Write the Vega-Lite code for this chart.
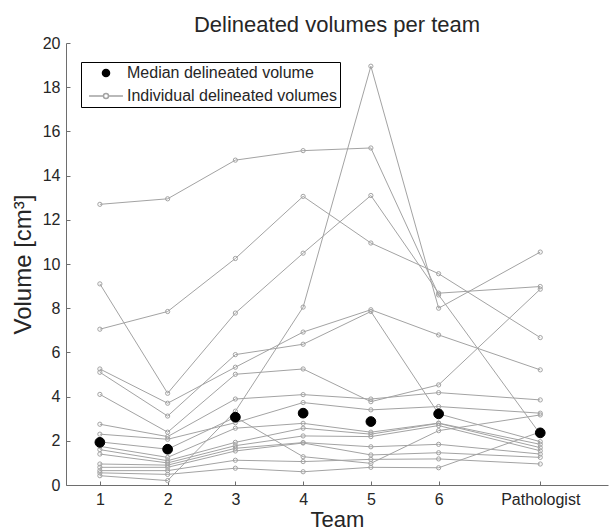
{
  "$schema": "https://vega.github.io/schema/vega-lite/v6.json",
  "width": 542,
  "height": 442,
  "autosize": {"type": "none"},
  "padding": {"left": 66, "top": 43, "right": 1, "bottom": 45},
  "background": "white",
  "config": {
    "font": "Liberation Sans",
    "view": {"stroke": null},
    "axis": {
      "grid": false,
      "domainColor": "#6e6e6e",
      "tickColor": "#6e6e6e",
      "tickSize": -4,
      "labelPadding": 10,
      "labelFontSize": 16,
      "labelColor": "#262626",
      "labelFlush": false,
      "labelOverlap": false,
      "titleFontSize": 22,
      "titleFontWeight": "normal",
      "titleColor": "#262626"
    }
  },
  "title": {
    "text": "Delineated volumes per team",
    "fontSize": 22,
    "fontWeight": "normal",
    "color": "#262626",
    "anchor": "middle",
    "frame": "group",
    "offset": -2
  },
  "datasets": {
    "individual": [
      {"c":"L1","team":1,"volume":12.7},{"c":"L1","team":2,"volume":12.95},{"c":"L1","team":3,"volume":14.7},{"c":"L1","team":4,"volume":15.13},{"c":"L1","team":5,"volume":15.25},{"c":"L1","team":6,"volume":8.6},{"c":"L1","team":7.5,"volume":2.3},
      {"c":"L2","team":1,"volume":7.05},{"c":"L2","team":2,"volume":7.85},{"c":"L2","team":3,"volume":10.25},{"c":"L2","team":4,"volume":13.06},{"c":"L2","team":5,"volume":10.95},{"c":"L2","team":6,"volume":9.56},{"c":"L2","team":7.5,"volume":6.67},
      {"c":"L3","team":1,"volume":9.1},{"c":"L3","team":2,"volume":4.15},{"c":"L3","team":3,"volume":7.78},{"c":"L3","team":4,"volume":10.49},{"c":"L3","team":5,"volume":13.1},{"c":"L3","team":6,"volume":8.68},{"c":"L3","team":7.5,"volume":8.98},
      {"c":"L4","team":1,"volume":0.42},{"c":"L4","team":2,"volume":0.2},{"c":"L4","team":3,"volume":3.34},{"c":"L4","team":4,"volume":8.05},{"c":"L4","team":5,"volume":18.95},{"c":"L4","team":6,"volume":8.0},{"c":"L4","team":7.5,"volume":10.54},
      {"c":"L5","team":1,"volume":5.25},{"c":"L5","team":2,"volume":3.7},{"c":"L5","team":3,"volume":5.33},{"c":"L5","team":4,"volume":6.92},{"c":"L5","team":5,"volume":7.93},{"c":"L5","team":6,"volume":6.79},{"c":"L5","team":7.5,"volume":5.21},
      {"c":"L6","team":1,"volume":5.1},{"c":"L6","team":2,"volume":3.12},{"c":"L6","team":3,"volume":5.9},{"c":"L6","team":4,"volume":6.37},{"c":"L6","team":5,"volume":7.85},{"c":"L6","team":6,"volume":3.22},{"c":"L6","team":7.5,"volume":1.96},
      {"c":"L7","team":1,"volume":4.1},{"c":"L7","team":2,"volume":2.39},{"c":"L7","team":3,"volume":5.01},{"c":"L7","team":4,"volume":5.25},{"c":"L7","team":5,"volume":3.77},{"c":"L7","team":6,"volume":4.53},{"c":"L7","team":7.5,"volume":8.86},
      {"c":"L8","team":1,"volume":2.75},{"c":"L8","team":2,"volume":2.19},{"c":"L8","team":3,"volume":3.89},{"c":"L8","team":4,"volume":4.09},{"c":"L8","team":5,"volume":3.89},{"c":"L8","team":6,"volume":4.18},{"c":"L8","team":7.5,"volume":3.85},
      {"c":"L9","team":1,"volume":2.3},{"c":"L9","team":2,"volume":2.07},{"c":"L9","team":3,"volume":2.82},{"c":"L9","team":4,"volume":3.73},{"c":"L9","team":5,"volume":3.4},{"c":"L9","team":6,"volume":3.55},{"c":"L9","team":7.5,"volume":3.25},
      {"c":"L10","team":1,"volume":1.95},{"c":"L10","team":2,"volume":1.62},{"c":"L10","team":3,"volume":3.07},{"c":"L10","team":4,"volume":1.28},{"c":"L10","team":5,"volume":0.98},{"c":"L10","team":6,"volume":2.46},{"c":"L10","team":7.5,"volume":3.17},
      {"c":"L11","team":1,"volume":1.75},{"c":"L11","team":2,"volume":1.25},{"c":"L11","team":3,"volume":2.57},{"c":"L11","team":4,"volume":2.79},{"c":"L11","team":5,"volume":2.39},{"c":"L11","team":6,"volume":2.8},{"c":"L11","team":7.5,"volume":1.84},
      {"c":"L12","team":1,"volume":1.6},{"c":"L12","team":2,"volume":1.1},{"c":"L12","team":3,"volume":1.93},{"c":"L12","team":4,"volume":2.57},{"c":"L12","team":5,"volume":2.3},{"c":"L12","team":6,"volume":2.79},{"c":"L12","team":7.5,"volume":1.69},
      {"c":"L13","team":1,"volume":1.4},{"c":"L13","team":2,"volume":1.0},{"c":"L13","team":3,"volume":1.78},{"c":"L13","team":4,"volume":2.22},{"c":"L13","team":5,"volume":2.19},{"c":"L13","team":6,"volume":2.69},{"c":"L13","team":7.5,"volume":1.55},
      {"c":"L14","team":1,"volume":0.95},{"c":"L14","team":2,"volume":0.9},{"c":"L14","team":3,"volume":1.66},{"c":"L14","team":4,"volume":1.92},{"c":"L14","team":5,"volume":1.73},{"c":"L14","team":6,"volume":1.84},{"c":"L14","team":7.5,"volume":1.4},
      {"c":"L15","team":1,"volume":0.8},{"c":"L15","team":2,"volume":0.8},{"c":"L15","team":3,"volume":1.54},{"c":"L15","team":4,"volume":1.9},{"c":"L15","team":5,"volume":1.36},{"c":"L15","team":6,"volume":1.46},{"c":"L15","team":7.5,"volume":1.25},
      {"c":"L16","team":1,"volume":0.65},{"c":"L16","team":2,"volume":0.65},{"c":"L16","team":3,"volume":1.12},{"c":"L16","team":4,"volume":1.06},{"c":"L16","team":5,"volume":1.16},{"c":"L16","team":6,"volume":1.18},{"c":"L16","team":7.5,"volume":0.95},
      {"c":"L17","team":1,"volume":0.55},{"c":"L17","team":2,"volume":0.48},{"c":"L17","team":3,"volume":0.76},{"c":"L17","team":4,"volume":0.6},{"c":"L17","team":5,"volume":0.8},{"c":"L17","team":6,"volume":0.78},{"c":"L17","team":7.5,"volume":2.4}
    ],
    "median": [
      {"team":1,"volume":1.93,"series":"Median delineated volume"},
      {"team":2,"volume":1.62,"series":"Median delineated volume"},
      {"team":3,"volume":3.07,"series":"Median delineated volume"},
      {"team":4,"volume":3.25,"series":"Median delineated volume"},
      {"team":5,"volume":2.87,"series":"Median delineated volume"},
      {"team":6,"volume":3.22,"series":"Median delineated volume"},
      {"team":7.5,"volume":2.36,"series":"Median delineated volume"}
    ]
  },
  "encoding": {
    "x": {
      "field": "team",
      "type": "quantitative",
      "scale": {"domain": [0.5, 8.5], "nice": false, "zero": false},
      "axis": {
        "values": [1, 2, 3, 4, 5, 6, 7.5],
        "labelExpr": "datum.value == 7.5 ? 'Pathologist' : datum.label",
        "title": "Team",
        "titlePadding": 2
      }
    },
    "y": {
      "field": "volume",
      "type": "quantitative",
      "scale": {"domain": [0, 20], "nice": false, "zero": true},
      "axis": {
        "values": [0, 2, 4, 6, 8, 10, 12, 14, 16, 18, 20],
        "title": "Volume [cm³]",
        "titleFontSize": 24,
        "titlePadding": 7
      }
    }
  },
  "layer": [
    {
      "data": {"name": "individual"},
      "mark": {"type": "line", "color": "#a3a3a3", "strokeWidth": 1},
      "encoding": {
        "detail": {"field": "c", "type": "nominal"},
        "order": {"field": "team", "type": "quantitative"}
      }
    },
    {
      "data": {"name": "individual"},
      "mark": {"type": "point", "shape": "circle", "filled": false, "color": "#a3a3a3", "size": 18, "strokeWidth": 1, "opacity": 1}
    },
    {
      "data": {"name": "median"},
      "mark": {"type": "point", "size": 380, "opacity": 1, "strokeWidth": 1},
      "encoding": {
        "fill": {
          "field": "series",
          "type": "nominal",
          "scale": {
            "domain": ["Median delineated volume", "Individual delineated volumes"],
            "range": ["black", "transparent"]
          },
          "legend": {"title": null}
        },
        "stroke": {
          "field": "series",
          "type": "nominal",
          "scale": {
            "domain": ["Median delineated volume", "Individual delineated volumes"],
            "range": ["black", "#a3a3a3"]
          },
          "legend": {"title": null}
        },
        "shape": {
          "field": "series",
          "type": "nominal",
          "scale": {
            "domain": ["Median delineated volume", "Individual delineated volumes"],
            "range": [
              "M-0.5,0A0.5,0.5,0,1,1,0.5,0A0.5,0.5,0,1,1,-0.5,0Z",
              "M-2.4,0L-0.354,0M0.354,0L2.4,0M-0.354,0A0.354,0.354,0,1,1,0.354,0A0.354,0.354,0,1,1,-0.354,0"
            ]
          },
          "legend": {
            "title": null,
            "orient": "none",
            "legendX": 15,
            "legendY": 19,
            "strokeColor": "black",
            "fillColor": "white",
            "padding": 3,
            "symbolSize": 200,
            "symbolOffset": 14,
            "labelOffset": 13,
            "rowPadding": 7,
            "labelFontSize": 16,
            "labelColor": "#262626",
            "labelLimit": 400,
            "cornerRadius": 0,
            "encode": {
              "symbols": {
                "update": {
                  "size": {"value": 200},
                  "opacity": {"value": 1},
                  "strokeWidth": {"value": 1}
                }
              }
            }
          }
        }
      }
    }
  ]
}
